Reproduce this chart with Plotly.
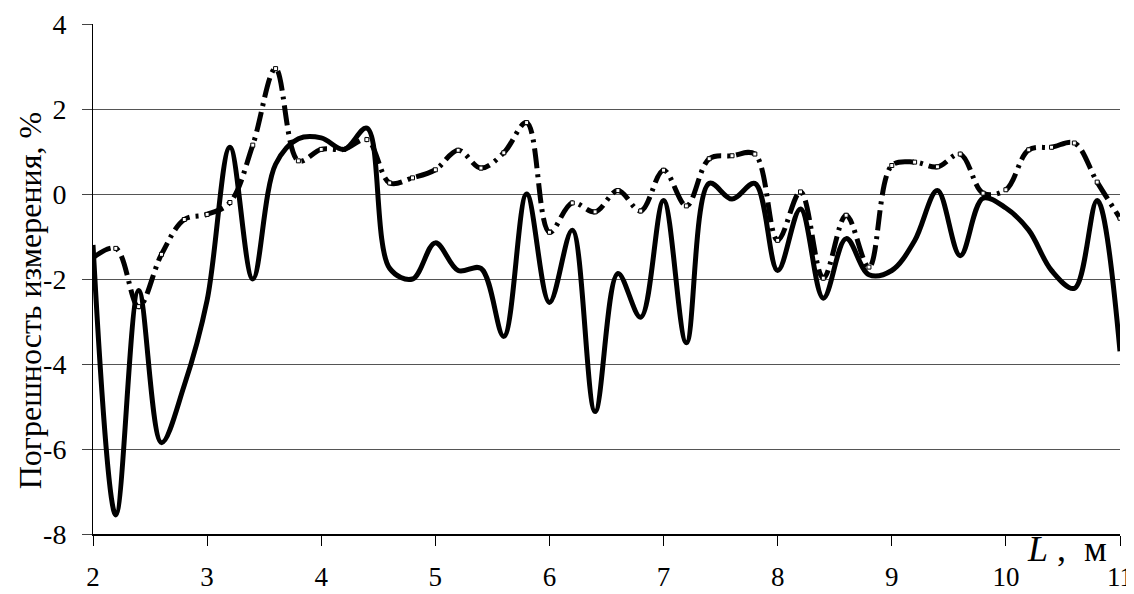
import plotly.graph_objects as go

x_vals = [2.0, 2.2, 2.4, 2.6, 2.8, 3.0, 3.2, 3.4, 3.6, 3.8,
          4.0, 4.2, 4.4, 4.6, 4.8, 5.0, 5.2, 5.4, 5.6, 5.8,
          6.0, 6.2, 6.4, 6.6, 6.8, 7.0, 7.2, 7.4, 7.6, 7.8,
          8.0, 8.2, 8.4, 8.6, 8.8, 9.0, 9.2, 9.4, 9.6, 9.8,
          10.0, 10.2, 10.4, 10.6, 10.8, 11.0]

solid_vals = [-1.2, -7.55, -2.27, -5.85, -4.5, -2.5, 1.1, -2.0, 0.7, 1.3,
              1.32, 1.05, 1.55, -1.75, -2.0, -1.15, -1.8, -1.75, -3.35, 0.0,
              -2.55, -0.85, -5.12, -1.87, -2.9, -0.15, -3.5, 0.25, -0.12, 0.25,
              -1.8, -0.35, -2.45, -1.05, -1.9, -1.8, -1.1, 0.08, -1.45, -0.1,
              -0.33, -0.85, -1.8, -2.22, -0.15, -3.7]

dash_vals = [-1.5, -1.28, -2.65, -1.42, -0.6, -0.48, -0.2, 1.15, 2.95, 0.78,
             1.05, 1.05, 1.28, 0.26, 0.38, 0.57, 1.03, 0.61, 0.97, 1.68,
             -0.9, -0.21, -0.42, 0.08, -0.4, 0.56, -0.28, 0.83, 0.9, 0.94,
             -1.09, 0.05, -1.98, -0.5, -1.72, 0.67, 0.75, 0.64, 0.94, 0.02,
             0.1, 1.04, 1.1, 1.2, 0.28, -0.57]

x_ticks = [2, 3, 4, 5, 6, 7, 8, 9, 10, 11]
x_tick_text = ["2", "3", "4", "5", "6", "7", "8", "9", "10", "11"]
y_ticks = [-8, -6, -4, -2, 0, 2, 4]
y_tick_text = ["-8", "-6", "-4", "-2", "0", "2", "4"]

y_title = "Погрешность измерения, %"
x_title = "<i>L</i> ,  м"

FONT = "Liberation Serif, Times New Roman, serif"

fig = go.Figure()
fig.add_trace(go.Scatter(
    x=x_vals, y=dash_vals, mode="lines+markers",
    line=dict(color="black", width=5, shape="spline", smoothing=1,
              dash="20px,6px,3px,6px"),
    marker=dict(symbol="square", size=4, color="white",
                line=dict(color="black", width=1)),
    showlegend=False))
fig.add_trace(go.Scatter(
    x=x_vals, y=solid_vals, mode="lines",
    line=dict(color="black", width=5, shape="spline", smoothing=1),
    showlegend=False))

fig.update_layout(
    width=1126, height=586,
    margin=dict(l=85, r=14, t=16, b=60, autoexpand=False),
    paper_bgcolor="white", plot_bgcolor="white",
    font=dict(family=FONT, color="black", size=28),
    xaxis=dict(range=[2, 11], tickvals=x_ticks, ticktext=x_tick_text,
               ticks="outside", ticklen=10, automargin=False,
               tickcolor="black", showline=True, linecolor="black",
               linewidth=1.5, showgrid=False, zeroline=False,
               ticklabelstandoff=8, tickfont=dict(size=27, family=FONT, color="black")),
    yaxis=dict(range=[-8, 4], tickvals=y_ticks, ticktext=y_tick_text,
               ticks="outside", ticklen=10, automargin=False,
               tickcolor="#444", showline=True, linecolor="black",
               linewidth=1, showgrid=True, gridcolor="#555", gridwidth=1,
               zeroline=False, ticklabelstandoff=10,
               tickfont=dict(size=28, family=FONT, color="black")),
    annotations=[
        dict(text=y_title, textangle=-90, xref="paper", yref="paper",
             x=-0.061, y=0.457, xanchor="center", yanchor="middle",
             showarrow=False, font=dict(size=32, family=FONT, color="black")),
        dict(text=x_title, xref="paper", yref="paper",
             x=0.948, y=-0.03, xanchor="center", yanchor="middle",
             showarrow=False, font=dict(size=36, family=FONT, color="black")),
    ],
)

fig.write_html("out.html")
